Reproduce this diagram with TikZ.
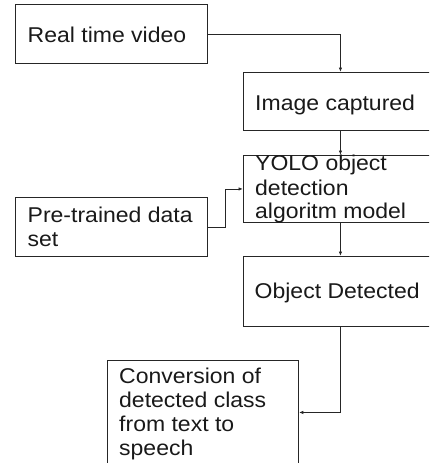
\documentclass[tikz,border=0pt]{standalone}
\usepackage{fontspec}
\setmainfont[FakeStretch=1.075]{Liberation Sans}
\usetikzlibrary{arrows.meta}
\begin{document}
\begin{tikzpicture}[x=1pt,y=-1pt,
  box/.style={draw=black!85, line width=0.9pt, anchor=north west, inner sep=0pt},
  txt/.style={anchor=base west, inner sep=0pt, text=black!90, font=\fontsize{21.4}{23.5}\selectfont},
  flow/.style={draw=black!85, line width=0.9pt, -{Latex[length=4.5pt,width=3.5pt]}}]
\useasboundingbox (0,0) rectangle (429,463);
\clip (0,0) rectangle (429,463);
% boxes
\node[box, minimum width=192pt, minimum height=59pt] (rtv)  at (15,4) {};
\node[box, minimum width=194pt, minimum height=58pt] (img)  at (243,72) {};
\node[box, minimum width=194pt, minimum height=67pt] (yolo) at (243,155) {};
\node[box, minimum width=192pt, minimum height=59pt] (pre)  at (15,197) {};
\node[box, minimum width=194pt, minimum height=70pt] (det)  at (243,256) {};
\node[box, minimum width=191pt, minimum height=104pt] (conv) at (107,360) {};
% labels
\node[txt] (t1) at (27.5,42.5) {Real time video};
\node[txt] (t2) at (255,110.5) {Image captured};
\node[txt] (t3a) at (255,170.5) {YOLO object};
\node[txt] (t3b) at (255,195) {detection};
\node[txt] (t3c) at (255,218.3) {algoritm model};
\node[txt] (t4a) at (27.5,222.7) {Pre-trained data};
\node[txt] (t4b) at (27.5,246) {set};
\node[txt] (t5) at (254.5,298.3) {Object Detected};
\node[txt] (t6a) at (119,383.3) {Conversion of};
\node[txt] (t6b) at (119,407.5) {detected class};
\node[txt] (t6c) at (119,431) {from text to};
\node[txt] (t6d) at (119,455) {speech};
% connectors
\draw[flow] (rtv.east) -| (img.north);
\draw[flow] (img.south) -- (yolo.north);
\draw[flow] (pre.east) -- ++(18,0) |- (yolo.west);
\draw[flow] (yolo.south) -- (det.north);
\draw[flow] (det.south) |- (conv.east);
\end{tikzpicture}
\end{document}
